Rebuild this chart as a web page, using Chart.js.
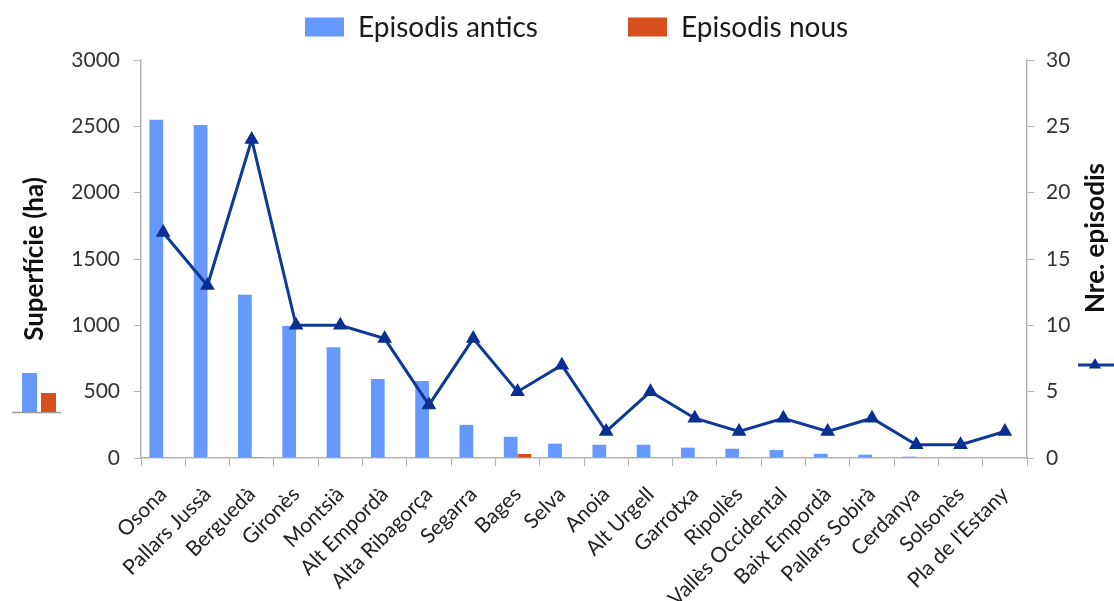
<!DOCTYPE html>
<html>
<head>
<meta charset="utf-8">
<script src="https://cdn.jsdelivr.net/npm/chart.js@4.4.1/dist/chart.umd.min.js"></script>
<style>
  html, body { margin: 0; padding: 0; background: #fff; }
</style>
</head>
<body>
<canvas id="chart" width="1114" height="601"></canvas>
<script>
const comarques = ['Osona', 'Pallars Jussà', 'Berguedà', 'Gironès', 'Montsià', 'Alt Empordà',
  'Alta Ribagorça', 'Segarra', 'Bages', 'Selva', 'Anoia', 'Alt Urgell', 'Garrotxa', 'Ripollès',
  'Vallès Occidental', 'Baix Empordà', 'Pallars Sobirà', 'Cerdanya', 'Solsonès', "Pla de l'Estany"];
const superficieAntics = [2550, 2510, 1230, 995, 835, 595, 580, 250, 160, 108, 100, 100, 78, 70, 60, 32, 25, 10, 6, 0];
const superficieNous = [0, 0, 6, 0, 0, 0, 0, 0, 30, 0, 0, 0, 0, 0, 0, 0, 0, 0, 0, 0];
const nombreEpisodis = [17, 13, 24, 10, 10, 9, 4, 9, 5, 7, 2, 5, 3, 2, 3, 2, 3, 1, 1, 2];
const superficieEix = { min: 0, max: 3000, step: 500 };
const episodisEix = { min: 0, max: 30, step: 5 };

const blau = '#6699ff';
const taronja = '#d64f1c';
const blauFosc = '#0f3a94';
const gris = '#b3b3b3';

Chart.defaults.font.family = 'Lato, "Open Sans", sans-serif';
Chart.defaults.color = '#333';

// legend keys and the right-hand title, drawn by hand around the plot
const clausEixos = {
  id: 'clausEixos',
  afterDraw(chart) {
    const ctx = chart.ctx;
    const area = chart.chartArea;
    const ds = chart.data.datasets;
    ctx.save();

    // top legend (bar series only)
    ctx.font = '28px Lato';
    ctx.textBaseline = 'middle';
    ctx.textAlign = 'left';
    const boxW = 39, boxH = 19;
    const y = 27;
    [ds[0], ds[1]].forEach((d, i) => {
      const x = chart.width / 2 - 252 + i * 323;
      ctx.fillStyle = d.backgroundColor;
      ctx.fillRect(x, y - boxH / 2, boxW, boxH);
      ctx.fillStyle = '#1a1a1a';
      ctx.fillText(d.label, x + boxW + 14, y + 1);
    });

    // small bar key under the left title
    const base = area.top + 352;
    ctx.fillStyle = ds[0].backgroundColor;
    ctx.fillRect(22, base - 39, 15, 39);
    ctx.fillStyle = ds[1].backgroundColor;
    ctx.fillRect(41, base - 19, 15, 19);
    ctx.strokeStyle = '#999';
    ctx.lineWidth = 1.5;
    ctx.beginPath();
    ctx.moveTo(12, base + 0.5);
    ctx.lineTo(61, base + 0.5);
    ctx.stroke();

    // right-hand title, reading upwards
    ctx.font = 'bold 26px Lato';
    ctx.fillStyle = '#111';
    ctx.textAlign = 'center';
    ctx.translate(chart.width - 18, area.top + 178);
    ctx.rotate(-Math.PI / 2);
    ctx.fillText('Nre. episodis', 0, 0);
    ctx.setTransform(1, 0, 0, 1, 0, 0);

    // line key under the right title
    const ly = area.top + 305;
    const lx = area.right + 51;
    ctx.strokeStyle = ds[2].borderColor;
    ctx.lineWidth = 3;
    ctx.beginPath();
    ctx.moveTo(lx, ly);
    ctx.lineTo(chart.width, ly);
    ctx.stroke();
    const tx = lx + 17, r = 7;
    ctx.fillStyle = ds[2].pointBackgroundColor;
    ctx.beginPath();
    ctx.moveTo(tx, ly - r);
    ctx.lineTo(tx + r * 0.87, ly + r / 2);
    ctx.lineTo(tx - r * 0.87, ly + r / 2);
    ctx.closePath();
    ctx.fill();

    ctx.restore();
  }
};

new Chart(document.getElementById('chart'), {
  data: {
    labels: comarques,
    datasets: [
      {
        type: 'bar', label: 'Episodis antics', data: superficieAntics,
        backgroundColor: blau, yAxisID: 'y', order: 1,
        categoryPercentage: 0.62, barPercentage: 1
      },
      {
        type: 'bar', label: 'Episodis nous', data: superficieNous,
        backgroundColor: taronja, yAxisID: 'y', order: 1,
        categoryPercentage: 0.62, barPercentage: 1
      },
      {
        type: 'line', label: 'Nre. episodis', data: nombreEpisodis,
        borderColor: blauFosc, borderWidth: 3, yAxisID: 'y1', order: 0,
        pointStyle: 'triangle', pointRadius: 7, pointBorderWidth: 1.5,
        pointBackgroundColor: '#0a2f92', pointBorderColor: '#0a2f92', tension: 0
      }
    ]
  },
  options: {
    responsive: false,
    animation: false,
    layout: { padding: { top: 60, left: 0, right: 0, bottom: 0 } },
    plugins: { legend: { display: false }, tooltip: { enabled: false } },
    scales: {
      x: {
        grid: { offset: true, drawOnChartArea: false, color: gris, tickLength: 8 },
        border: { color: gris, width: 1.5 },
        ticks: { autoSkip: false, maxRotation: 45, minRotation: 45, padding: 16,
          font: { size: 21 }, color: '#222' },
        afterFit(scale) { scale.height = 143; }
      },
      y: {
        position: 'left',
        min: superficieEix.min, max: superficieEix.max,
        grid: { drawOnChartArea: false, color: gris, tickLength: 7 },
        border: { color: gris, width: 1.5 },
        ticks: { stepSize: superficieEix.step, padding: 14, font: { size: 21 }, color: '#333',
          callback: v => String(v) },
        title: { display: true, text: 'Superfície (ha)', color: '#111',
          font: { size: 26, weight: 'bold' }, padding: { top: 19, bottom: 0 } },
        afterFit(scale) { scale.width = 141; }
      },
      y1: {
        position: 'right',
        min: episodisEix.min, max: episodisEix.max,
        grid: { drawOnChartArea: false, color: gris, tickLength: 7 },
        border: { color: gris, width: 1.5 },
        ticks: { stepSize: episodisEix.step, padding: 12, font: { size: 21 }, color: '#333',
          callback: v => String(v) },
        afterFit(scale) { scale.width = 87; }
      }
    }
  },
  plugins: [clausEixos]
});
</script>
</body>
</html>
